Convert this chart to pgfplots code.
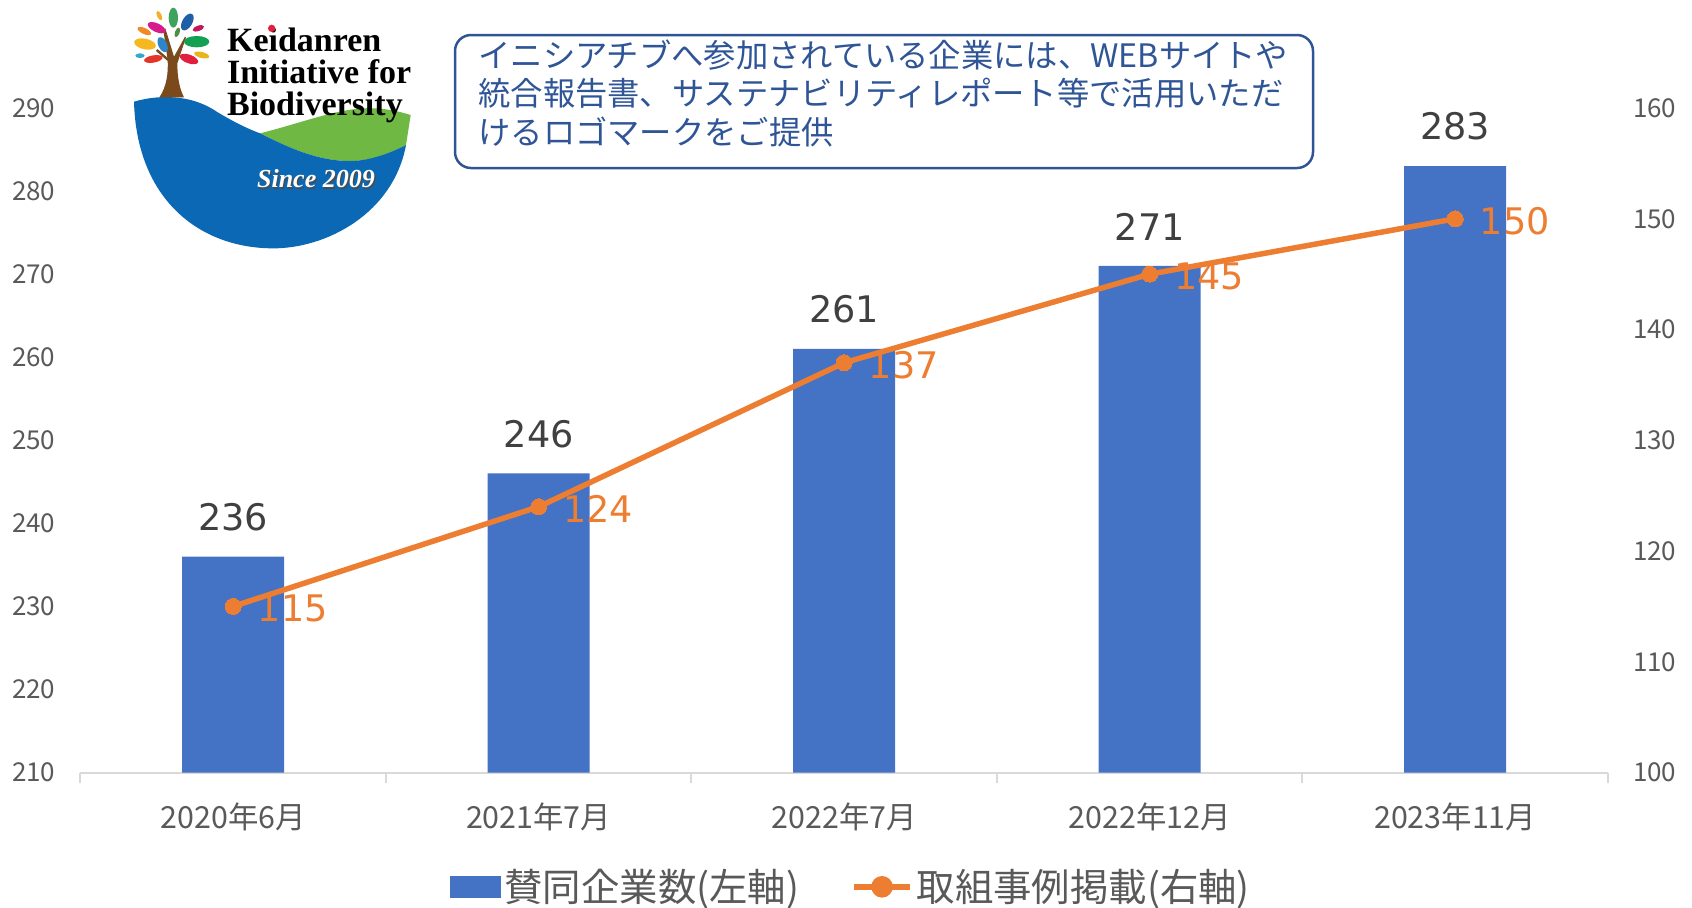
\documentclass[border=0pt]{standalone}
\usepackage{fontspec}
\usepackage{pgfplots}
\usepackage{pgfplotstable}
\pgfplotsset{compat=1.18}
\setmainfont{Noto Sans CJK JP}
\newfontfamily\numfont{DejaVu Sans}
\newfontfamily\logofont{Liberation Serif}
\definecolor{barblue}{HTML}{4472C4}
\definecolor{lineorange}{HTML}{ED7D31}
\definecolor{ticktext}{HTML}{595959}
\definecolor{labeltext}{HTML}{404040}
\definecolor{boxblue}{HTML}{2F5597}
\definecolor{axisgray}{HTML}{D9D9D9}
\definecolor{logogreen}{HTML}{6FB844}
\definecolor{logoblue}{HTML}{0A68B5}
\definecolor{logobrown}{HTML}{7A4A1C}
\definecolor{logored}{HTML}{E0203C}
\pgfplotstableread{
idx companies
0 236
1 246
2 261
3 271
4 283
}\companies
\pgfplotstableread{
idx cases
0 115
1 124
2 137
3 145
4 150
}\cases
\begin{document}
\begin{tikzpicture}
\useasboundingbox (0,0) rectangle (846pt,-453.5pt);
\pgfplotsset{
  /pgf/number format/assume math mode=true,
  base/.style={
    at={(40.2pt,-386.25pt)}, anchor=south west,
    scale only axis, width=763.8pt, height=332.25pt,
    xmin=-0.5, xmax=4.5, clip=false,
  },
}
% left axis: bars
\begin{axis}[base,
  ymin=210, ymax=290, ytick={210,220,...,290},
  axis x line*=bottom, axis y line*=left,
  y axis line style={draw=none},
  x axis line style={draw=axisgray, line width=1pt, -},
  xtick={0,1,2,3,4},
  xticklabels={2020年6月,2021年7月,2022年7月,2022年12月,2023年11月},
  major x tick style={draw=none},
  minor xtick={-0.5,0.5,1.5,2.5,3.5,4.5},
  minor x tick style={draw=axisgray, line width=1pt},
  minor tick length=5pt,
  tick align=outside,
  major y tick style={draw=none},
  major tick length=0pt,
  xticklabel style={font=\fontsize{15.2}{15.2}\selectfont, text=ticktext, yshift=-11.8pt},
  yticklabel style={font=\fontsize{13}{13}\selectfont, text=ticktext, xshift=-9pt},
]
\addplot[ybar, bar width=51pt, bar shift=0pt, fill=barblue, draw=none,
  nodes near coords,
  every node near coord/.append style={font=\numfont\fontsize{18.3}{18.3}\selectfont, text=labeltext, anchor=south, yshift=9.3pt},
] table[x=idx, y=companies] {\companies};
\end{axis}
% right axis: line
\begin{axis}[base,
  ymin=100, ymax=160, ytick={100,110,...,160},
  axis x line=none, axis y line*=right,
  y axis line style={draw=none},
  major y tick style={draw=none},
  major tick length=0pt,
  yticklabel style={font=\fontsize{13}{13}\selectfont, text=ticktext, xshift=9pt},
  legend columns=2,
  legend style={at={(0.505,-0.172)}, anchor=center, draw=none, fill=none,
    font=\fontsize{19.2}{19.2}\selectfont, text=ticktext,
    /tikz/every even column/.append style={column sep=24pt},
    inner sep=0pt},
]
\addlegendimage{legend image code/.code={
  \fill[barblue] (1pt,-5.2pt) rectangle (26pt,5.2pt);}}
\addlegendentry{賛同企業数(左軸)}
\addplot[draw=lineorange, line width=2.75pt, mark=*, mark size=4pt,
  mark options={fill=lineorange, draw=lineorange, line width=0pt},
  nodes near coords,
  every node near coord/.append style={font=\numfont\fontsize{18.3}{18.3}\selectfont, text=lineorange, anchor=west, xshift=9pt, yshift=-1.2pt},
  legend image code/.code={
    \draw[lineorange, line width=2.75pt] (0pt,0pt) -- (28pt,0pt);
    \fill[lineorange] (14pt,0pt) circle (4pt);},
] table[x=idx, y=cases] {\cases};
\addlegendentry{取組事例掲載(右軸)}
\end{axis}
% callout
\begin{scope}[x=0.5pt, y=-0.5pt]
\draw[boxblue, line width=1.25pt, rounded corners=8pt, fill=white] (455,35) rectangle (1313,168);
\node[anchor=north west, inner sep=0pt, align=left, text=boxblue,
  font=\fontsize{16.15}{19.35}\selectfont] at (478,39)
  {イニシアチブへ参加されている企業には、WEBサイトや\\統合報告書、サステナビリティレポート等で活用いただ\\けるロゴマークをご提供};
\end{scope}
% logo, in coordinates of a 3x crop from (100,0)
\begin{scope}[shift={(50pt,0pt)}, x=0.16667pt, y=-0.16667pt]
\fill[logogreen] (480,400) .. controls (600,370) and (700,330) .. (790,325) .. controls (850,322) and (900,335) .. (932,345)
   -- (918,435) .. controls (850,470) and (800,483) .. (750,483) .. controls (650,483) and (560,440) .. (480,400) -- cycle;
\fill[logoblue] (102,305) .. controls (170,285) and (270,280) .. (350,335) .. controls (400,365) and (440,385) .. (480,400)
   .. controls (560,440) and (650,483) .. (750,483) .. controls (800,483) and (860,465) .. (918,435)
   .. controls (880,640) and (680,745) .. (520,745) .. controls (300,745) and (110,600) .. (102,305) -- cycle;
% trunk
\fill[logobrown] (178,292) .. controls (200,260) and (205,220) .. (203,180) -- (190,90) -- (196,85) -- (222,170)
   -- (255,110) -- (258,112) -- (232,190) .. controls (232,230) and (238,265) .. (252,292) -- cycle;
\draw[logobrown, line width=1.2pt] (205,180) -- (170,150);
% leaves
\foreach \x/\y/\a/\b/\r/\c in {
  178/47/7/15/-25/F0B030, 220/53/14/30/0/3DA35D, 262/66/15/28/30/1F5FA8,
  133/93/22/9/25/F08A24, 170/83/29/13/25/D81B8C, 295/85/18/8/-20/C2185B,
  135/132/33/16/12/F5B81F, 188/134/13/24/-25/2E86C8, 290/125/38/17/0/12A150,
  232/97/7/15/20/4E8F45, 120/167/14/7/0/35A8C8, 160/177/28/11/-10/E5352B,
  267/177/29/13/20/E0203C, 305/165/23/9/15/E8B420}
  {\definecolor{leaf}{HTML}{\c}\fill[leaf, rotate around={\r*(-1):(\x,\y)}] (\x,\y) ellipse ({\a} and {\b});}
% text
\node[anchor=base west, inner sep=0pt, text=black, font=\logofont\bfseries\fontsize{17}{17}\selectfont] at (380,153) {Keidanren};
\fill[logored] (515,85) circle (11);
\node[anchor=base west, inner sep=0pt, text=black, font=\logofont\bfseries\fontsize{17}{17}\selectfont] at (380,250) {Initiative for};
\node[anchor=base west, inner sep=0pt, text=black, font=\logofont\bfseries\fontsize{17}{17}\selectfont] at (380,345) {Biodiversity};
\node[anchor=base west, inner sep=0pt, text=black!70, font=\logofont\bfseries\itshape\fontsize{13}{13}\selectfont] at (474,567) {Since 2009};
\node[anchor=base west, inner sep=0pt, text=white, font=\logofont\bfseries\itshape\fontsize{13}{13}\selectfont] at (470,563) {Since 2009};
\end{scope}
\end{tikzpicture}
\end{document}
